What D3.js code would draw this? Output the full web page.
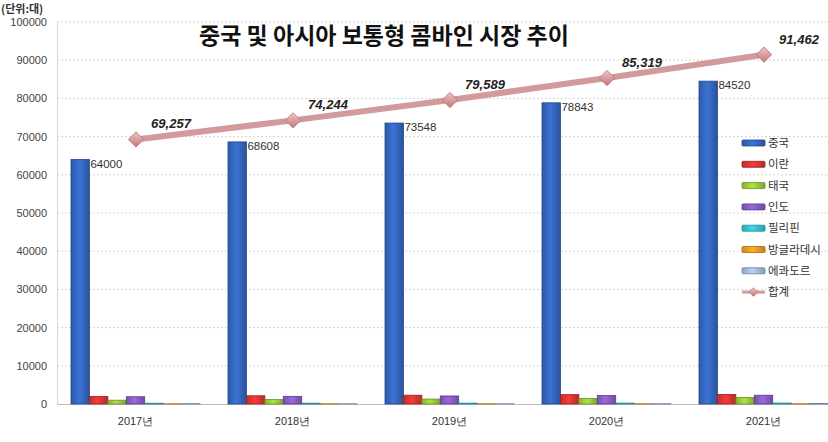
<!DOCTYPE html>
<html><head><meta charset="utf-8">
<script src="https://cdn.jsdelivr.net/npm/d3@7"></script>
<style>body{margin:0;background:#fff;}svg{display:block;font-family:"Noto Sans CJK KR","Noto Sans",sans-serif;}</style>
</head><body>
<svg id="c" width="828" height="442"></svg>
<script>
const years = ["2017년","2018년","2019년","2020년","2021년"];
const seriesNames = ["중국","이란","태국","인도","필리핀","방글라데시","에콰도르"];
const china = [64000,68608,73548,78843,84520];
const iran = [2000,2150,2300,2450,2500];
const thailand = [1000,1150,1300,1450,1700];
const india = [1900,2000,2100,2200,2300];
const philippines = [200,210,220,230,250];
const bangladesh = [60,62,65,68,70];
const ecuador = [97,64,56,78,122];
const totals = [69257,74244,79589,85319,91462];
const totalLabels = ["69,257","74,244","79,589","85,319","91,462"];
const yTicks = [0,10000,20000,30000,40000,50000,60000,70000,80000,90000,100000];
const colors = ["#3567c0","#e03434","#9ccc3a","#8a5ec6","#34c4d4","#f59c24","#a6bedc"];
const edge = ["#22468a","#9a1e1e","#6a8e22","#5a3a8c","#1f8c98","#b06a10","#6c84a8"];
const seriesData = [china,iran,thailand,india,philippines,bangladesh,ecuador];

const svg = d3.select("#c");
const plotLeft = 57, plotBottom = 404, plotTop = 22;
const x = d3.scaleBand().domain(years).range([plotLeft, plotLeft + 5*157]).paddingInner(0).paddingOuter(0);
const y = d3.scaleLinear().domain([0,100000]).range([plotBottom, plotTop]);
const groupW = 129;
const xs = d3.scaleBand().domain(seriesNames).range([0, groupW]);

const defs = svg.append("defs");
colors.forEach((c,i)=>{
  const g = defs.append("linearGradient").attr("id","g"+i).attr("x1","0").attr("x2","1");
  g.append("stop").attr("offset","0").attr("stop-color", d3.color(c).darker(0.4));
  g.append("stop").attr("offset","0.45").attr("stop-color", d3.color(c).brighter(0.3));
  g.append("stop").attr("offset","1").attr("stop-color", d3.color(c).darker(0.6));
});

// gridlines
svg.append("g").selectAll("line").data(yTicks.filter(d=>d>0)).join("line")
  .attr("x1",plotLeft).attr("x2",828).attr("y1",d=>y(d)).attr("y2",d=>y(d))
  .attr("stroke","#d4d4d4").attr("stroke-dasharray","2,2");

// y axis
const ya = svg.append("g").attr("transform",`translate(${plotLeft},0)`).call(d3.axisLeft(y).tickValues(yTicks).tickSize(0).tickPadding(10).tickFormat(d=>String(d)));
ya.select(".domain").attr("stroke","#d8d8d8");
ya.selectAll("text").attr("font-size",11).attr("fill","#444").attr("font-family","Liberation Sans, Arial, sans-serif");

// x axis
const xa = svg.append("g").attr("transform",`translate(0,${plotBottom})`).call(d3.axisBottom(x).tickSize(0).tickPadding(13));
xa.select(".domain").attr("stroke","#bbb");
xa.selectAll("text").attr("font-size",11).attr("fill","#333");

// bars
const groups = svg.append("g").selectAll("g").data(years).join("g")
  .attr("transform", d=>`translate(${x(d)+ (x.bandwidth()-groupW)/2},0)`);
groups.each(function(yr, yi){
  d3.select(this).selectAll("rect").data(seriesNames).join("rect")
    .attr("x", s=>xs(s)).attr("width", xs.bandwidth())
    .attr("y", (s,si)=>y(seriesData[si][yi]))
    .attr("height", (s,si)=>plotBottom - y(seriesData[si][yi]))
    .attr("fill",(s,si)=>`url(#g${si})`)
    .attr("stroke",(s,si)=>edge[si]).attr("stroke-width",0.8);
});

// China value labels
svg.append("g").selectAll("text").data(years).join("text")
  .attr("x",(d)=>x(d)+(x.bandwidth()-groupW)/2 + xs.bandwidth()+1)
  .attr("y",(d,i)=>y(china[i])+8)
  .attr("font-size",11.5).attr("fill","#333").attr("font-family","Liberation Sans, Arial, sans-serif")
  .text((d,i)=>String(china[i]));

// total line
const cx = d=>x(d)+x.bandwidth()/2 + 0.5;
const line = d3.line().x((d,i)=>cx(years[i])).y(d=>y(d));
svg.append("path").datum(totals).attr("d",line).attr("fill","none")
  .attr("stroke","#d29a9a").attr("stroke-width",6).attr("stroke-linecap","round");
const dg = defs.append("linearGradient").attr("id","dg").attr("x1","0").attr("y1","0").attr("x2","0").attr("y2","1");
dg.append("stop").attr("offset","0").attr("stop-color","#f2c4c4");
dg.append("stop").attr("offset","1").attr("stop-color","#c07a7a");
svg.append("g").selectAll("path").data(totals).join("path")
  .attr("d", d3.symbol().type(d3.symbolDiamond2).size(150))
  .attr("transform",(d,i)=>`translate(${cx(years[i])},${y(d)})`)
  .attr("fill","url(#dg)").attr("stroke","#b07070").attr("stroke-width",0.8);
svg.append("g").selectAll("text").data(totals).join("text")
  .attr("x",(d,i)=>cx(years[i])+35).attr("y",(d)=>y(d)-11)
  .attr("text-anchor","middle").attr("font-size",13).attr("font-weight","bold").attr("font-style","italic")
  .attr("fill","#222").attr("font-family","Liberation Sans, Arial, sans-serif")
  .text((d,i)=>totalLabels[i]);

// title
svg.append("text").attr("x",384).attr("y",44).attr("text-anchor","middle")
  .attr("font-size",23).attr("font-weight","bold").attr("fill","#111").text("중국 및 아시아 보통형 콤바인 시장 추이");
svg.append("text").attr("x",1).attr("y",13).attr("font-size",11).attr("font-weight","bold").attr("fill","#333").text("(단위:대)");

// legend
const legendNames = seriesNames.concat(["합계"]);
const lg = svg.append("g").selectAll("g").data(legendNames).join("g")
  .attr("transform",(d,i)=>`translate(742,${143 + i*21.3})`);
lg.each(function(d,i){
  const g = d3.select(this);
  if(i<7){
    g.append("rect").attr("x",0).attr("y",-3).attr("width",23).attr("height",6).attr("rx",1)
      .attr("fill",`url(#g${i})`).attr("stroke",edge[i]).attr("stroke-width",0.8);
  } else {
    g.append("line").attr("x1",0).attr("x2",23).attr("y1",0).attr("y2",0).attr("stroke","#d29a9a").attr("stroke-width",3);
    g.append("path").attr("d",d3.symbol().type(d3.symbolDiamond2).size(50)).attr("transform","translate(11.5,0)")
      .attr("fill","url(#dg)").attr("stroke","#b07070").attr("stroke-width",0.6);
  }
  g.append("text").attr("x",26).attr("y",4).attr("font-size",11.5).attr("fill","#333").text(d);
});
</script>
</body></html>
